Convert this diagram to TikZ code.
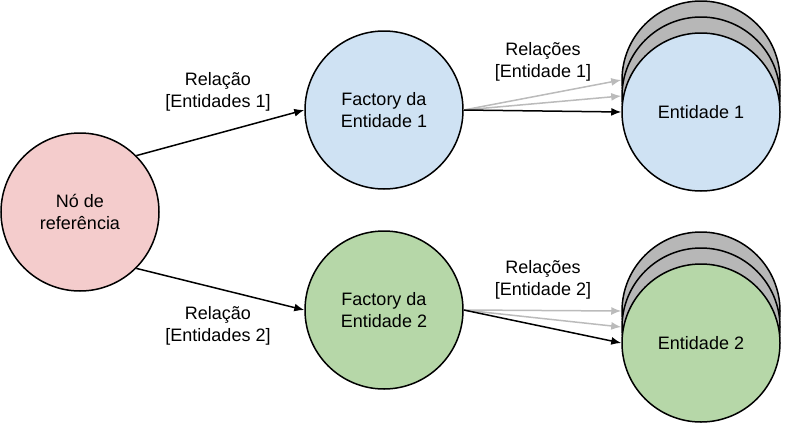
\documentclass[tikz,border=0pt]{standalone}
\usepackage{fontspec}
\setmainfont{Liberation Sans}
\usetikzlibrary{arrows.meta}
\definecolor{refpink}{HTML}{F4CCCC}
\definecolor{lblue}{HTML}{CFE2F3}
\definecolor{lgreen}{HTML}{B6D7A8}
\definecolor{backgray}{HTML}{B7B7B7}
\definecolor{arrgray}{HTML}{BBBBBB}
\tikzset{
  circ/.style={circle, draw=black, line width=1.5pt, minimum size=158pt, inner sep=0pt, align=center, font=\fontsize{18}{21.5}\selectfont},
  rel/.style={line width=1.5pt, -{Latex[length=10pt,width=8pt]}},
  relgray/.style={rel, draw=arrgray},
  lbl/.style={align=center, font=\fontsize{18}{21.5}\selectfont}
}
\begin{document}
\begin{tikzpicture}[x=1pt,y=-1pt]
\useasboundingbox (0,0) rectangle (811,442);
% nodes
\node[circ, fill=refpink] (ref) at (80,212) {Nó de\\referência};
\node[circ, fill=lblue] (f1) at (384,110) {Factory da\\Entidade 1};
\node[circ, fill=lgreen] (f2) at (384,310) {Factory da\\Entidade 2};
\node[circ, fill=backgray] (e1b2) at (701,80) {};
\node[circ, fill=backgray] (e1b1) at (701,96) {};
\node[circ, fill=lblue] (e1) at (701,112) {Entidade 1};
\node[circ, fill=backgray] (e2b2) at (701,311) {};
\node[circ, fill=backgray] (e2b1) at (701,327) {};
\node[circ, fill=lgreen] (e2) at (701,343) {Entidade 2};
% connectors
\draw[rel] (ref.45) -- (f1.west);
\draw[rel] (ref.-45) -- (f2.west);
\draw[relgray] (f1.east) -- (e1b2.west);
\draw[relgray] (f1.east) -- (e1b1.west);
\draw[rel] (f1.east) -- (e1.west);
\draw[relgray] (f2.east) -- (e2b2.west);
\draw[relgray] (f2.east) -- (e2b1.west);
\draw[rel] (f2.east) -- (e2.west);
% labels
\node[lbl] (l1) at (218,92) {Relação\\{[}Entidades 1{]}};
\node[lbl] (l2) at (218,326) {Relação\\{[}Entidades 2{]}};
\node[lbl] (l3) at (543,62) {Relações\\{[}Entidade 1{]}};
\node[lbl] (l4) at (543,280) {Relações\\{[}Entidade 2{]}};
\end{tikzpicture}
\end{document}
